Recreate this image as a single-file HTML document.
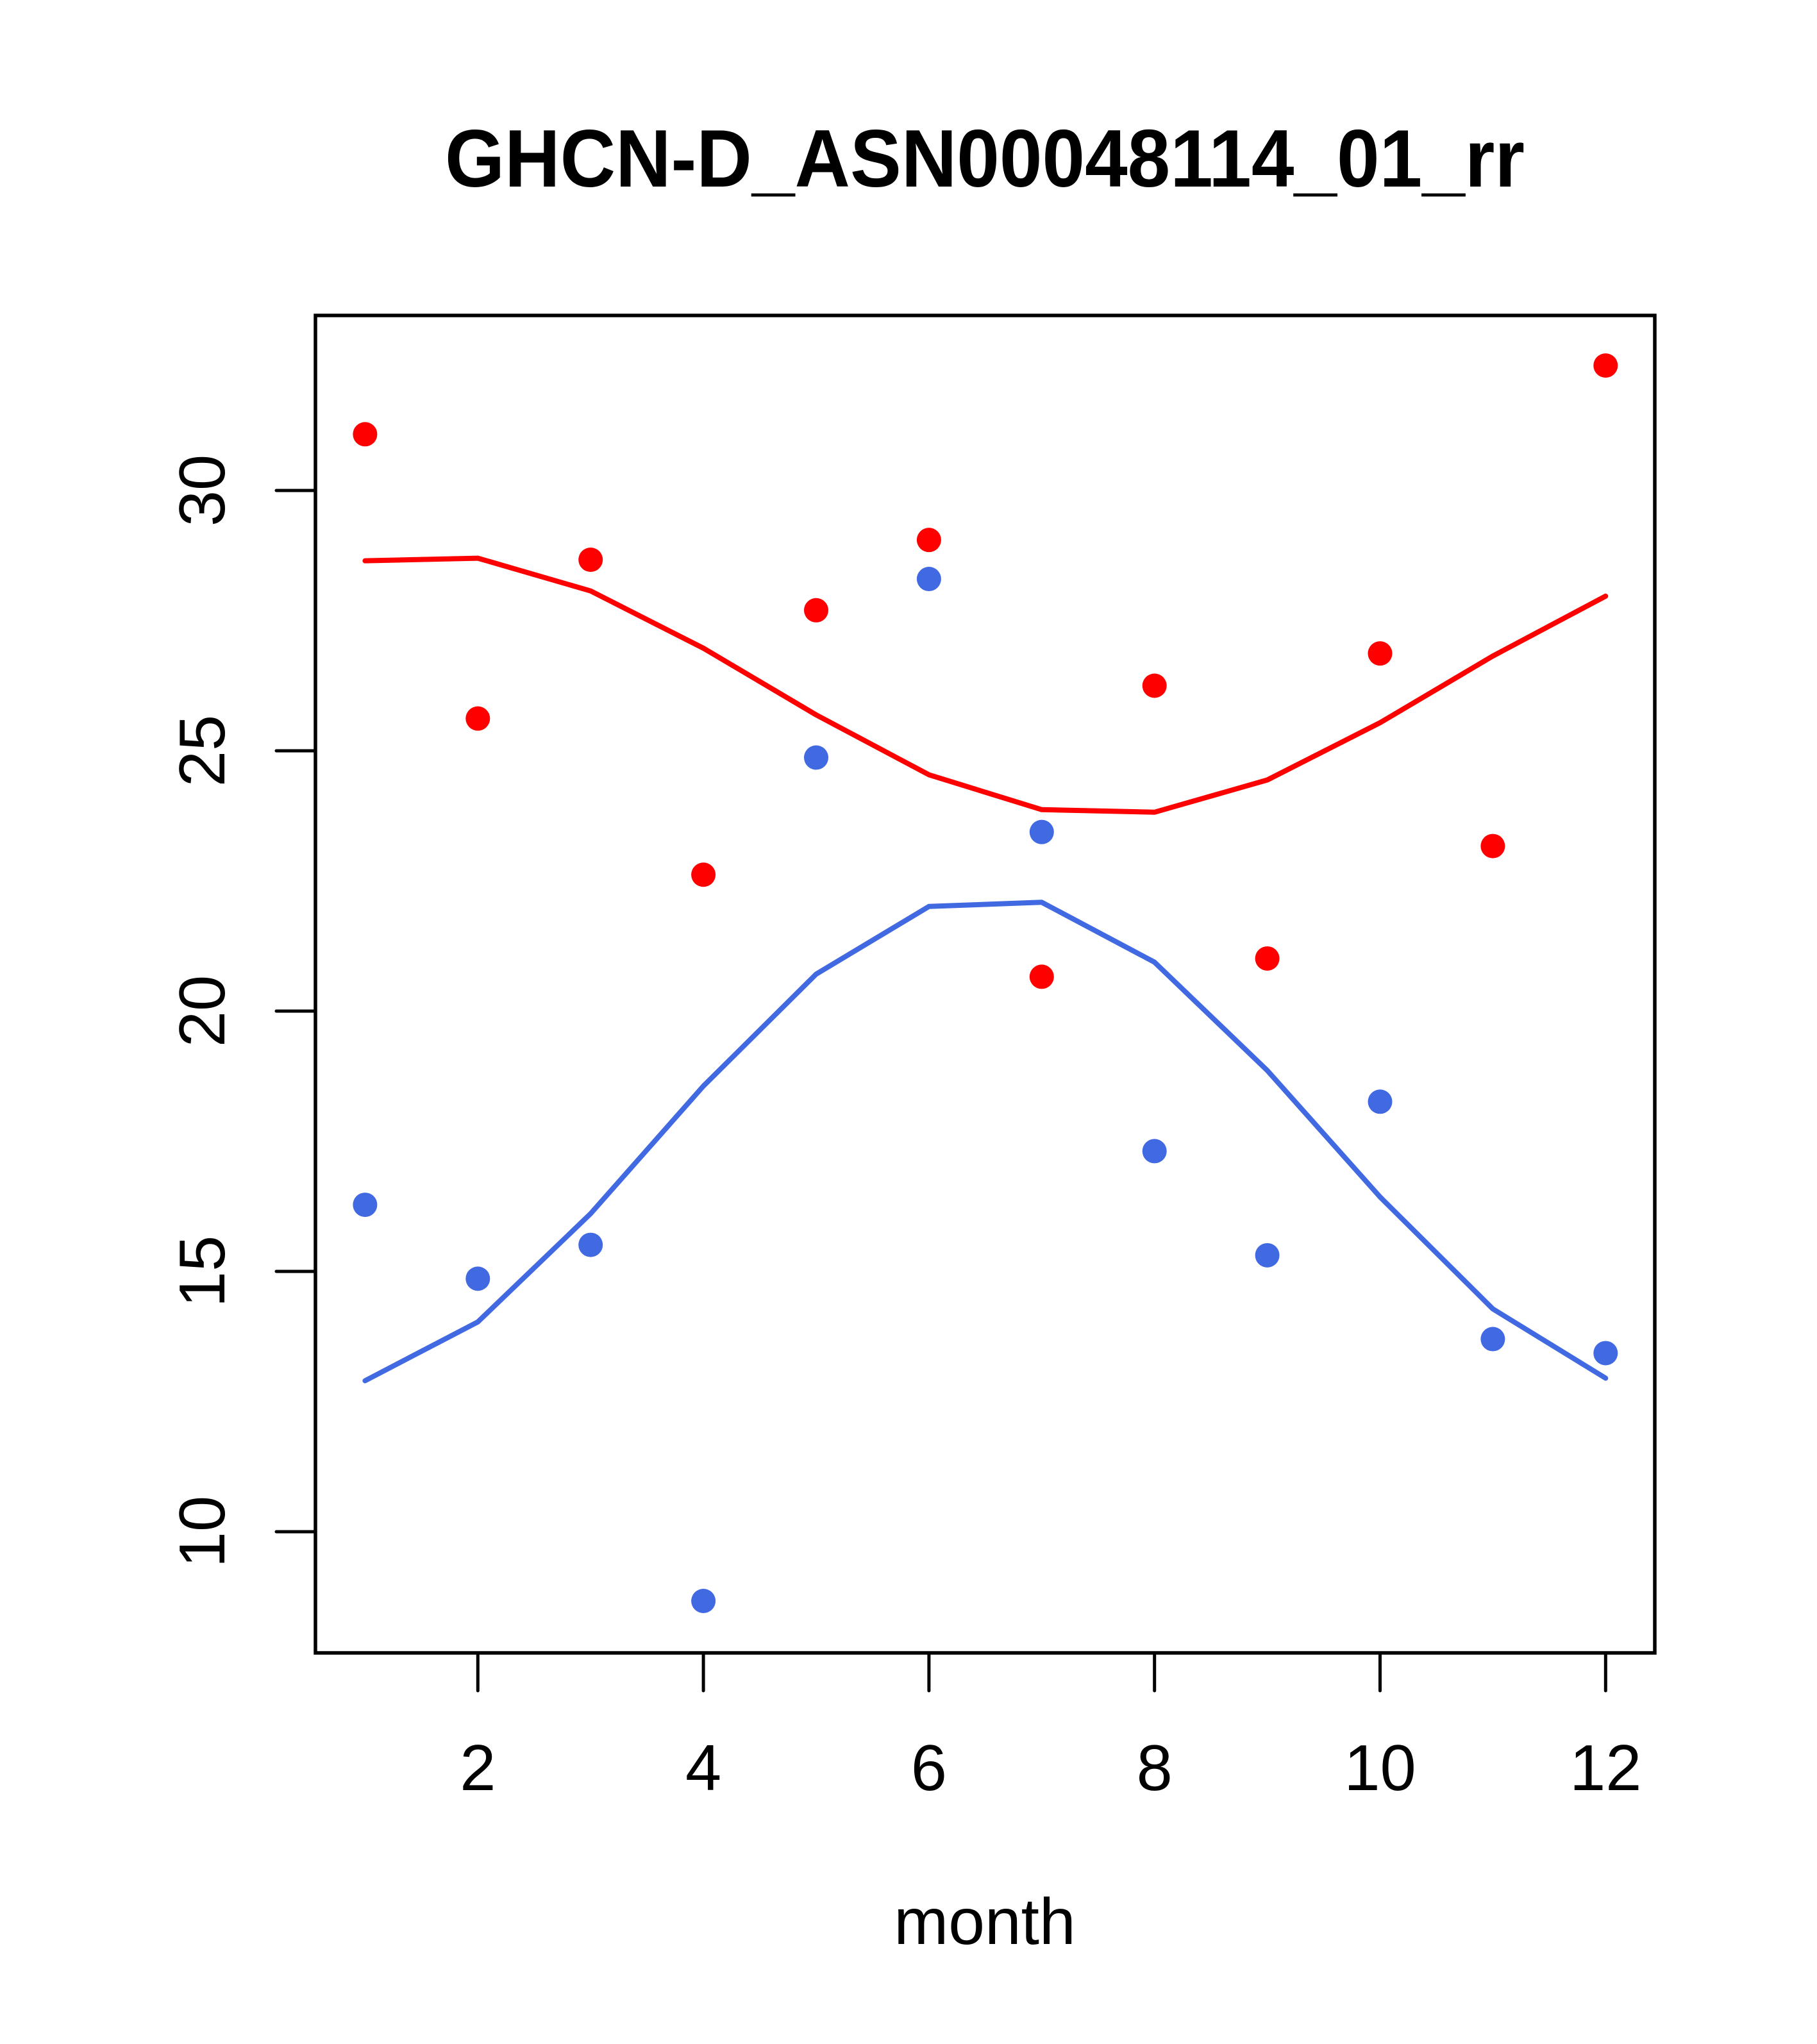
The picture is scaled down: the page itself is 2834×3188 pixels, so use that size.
<!DOCTYPE html>
<html><head><meta charset="utf-8"><style>
html,body{margin:0;padding:0;background:#fff;}
svg{display:block;}
text{font-family:"Liberation Sans",Arial,sans-serif;fill:#000;}
</style></head><body>
<svg id="s" width="2834" height="3188" viewBox="0 0 2834 3188" xmlns="http://www.w3.org/2000/svg">
<rect width="2834" height="3188" fill="#fff"/>
<text x="1536" y="291" font-size="127" font-weight="bold" text-anchor="middle" textLength="1684" lengthAdjust="spacingAndGlyphs">GHCN-D_ASN00048114_01_rr</text>
<rect x="492" y="492" width="2089" height="2086" fill="none" stroke="#000" stroke-width="5.5"/>
<g id="ax" stroke="#000" stroke-width="5" stroke-linecap="round"></g>
<g id="lab"></g>
<text x="1536" y="3032" font-size="102" text-anchor="middle">month</text>
<g id="ser"></g>
</svg>
<script>
var NS="http://www.w3.org/2000/svg";
function X(m){return 492+(m-0.56)*175.9;}
function Y(v){return 765+(30-v)*81.2;}
function el(t,a,p,txt){var e=document.createElementNS(NS,t);for(var k in a)e.setAttribute(k,a[k]);if(txt)e.textContent=txt;p.appendChild(e);return e;}
var ax=document.getElementById('ax'),lab=document.getElementById('lab'),ser=document.getElementById('ser');
[2,4,6,8,10,12].forEach(function(m){var x=X(m);el('line',{x1:x,y1:2578,x2:x,y2:2637},ax);
el('text',{x:x,y:2792,'font-size':101,'text-anchor':'middle'},lab,String(m));});
[10,15,20,25,30].forEach(function(v){var y=Y(v);el('line',{x1:431,y1:y,x2:492,y2:y},ax);
el('text',{x:350,y:y,'font-size':101,'text-anchor':'middle',transform:'rotate(-90 350 '+y+')'},lab,String(v));});
var rp=[31.08,25.62,28.67,22.62,27.70,29.05,20.66,26.25,21.01,26.87,23.17,32.40];
var bp=[16.28,14.86,15.51,8.67,24.87,28.30,23.44,17.31,15.31,18.26,13.70,13.43];
var rl=[28.65,28.70,28.07,26.97,25.69,24.54,23.87,23.82,24.44,25.54,26.82,27.97];
var bl=[12.90,14.03,16.11,18.56,20.71,22.01,22.09,20.94,18.86,16.43,14.28,12.95];
function pts(a){return a.map(function(v,i){return X(i+1).toFixed(1)+','+Y(v).toFixed(1);}).join(' ');}
el('polyline',{points:pts(rl),fill:'none',stroke:'#ff0000','stroke-width':8,'stroke-linecap':'round','stroke-linejoin':'round'},ser);
el('polyline',{points:pts(bl),fill:'none',stroke:'#4169e1','stroke-width':8,'stroke-linecap':'round','stroke-linejoin':'round'},ser);
rp.forEach(function(v,i){el('circle',{cx:X(i+1),cy:Y(v),r:19,fill:'#ff0000'},ser);});
bp.forEach(function(v,i){el('circle',{cx:X(i+1),cy:Y(v),r:19,fill:'#4169e1'},ser);});
</script>
</body></html>
